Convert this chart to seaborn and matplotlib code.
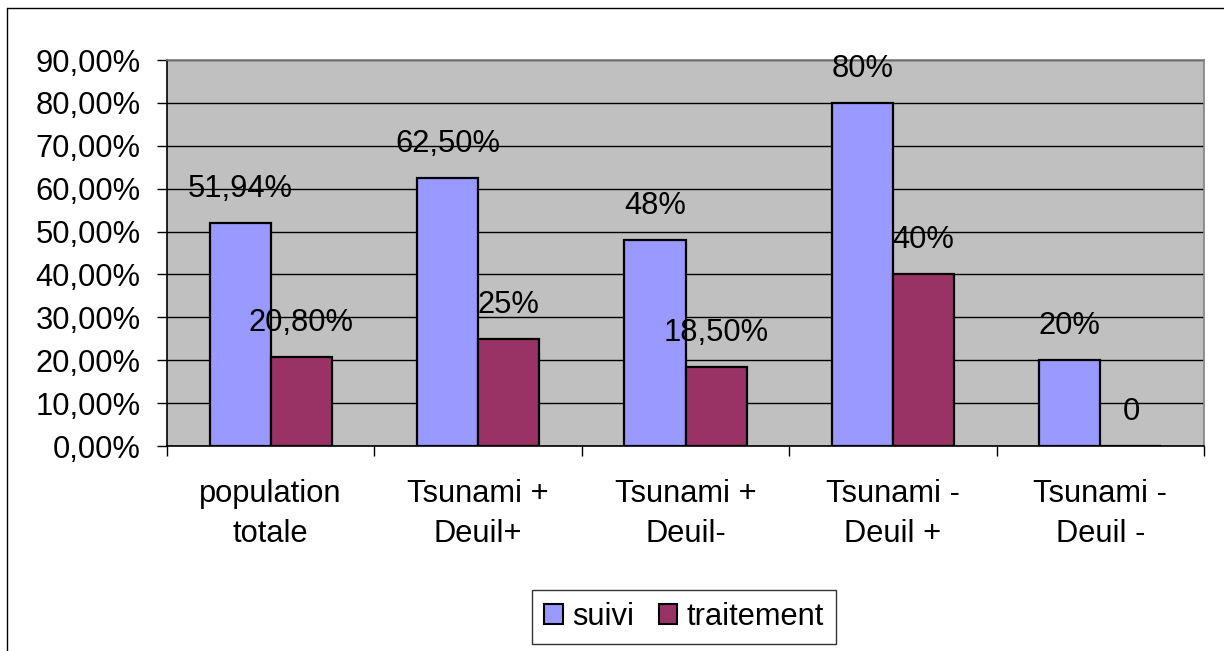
import matplotlib
matplotlib.use("Agg")
import matplotlib.pyplot as plt
import seaborn as sns
import pandas as pd
from matplotlib.ticker import FuncFormatter, FixedLocator
from matplotlib.lines import Line2D

categories = ["population\ntotale", "Tsunami +\nDeuil+", "Tsunami +\nDeuil-", "Tsunami -\nDeuil +", "Tsunami -\nDeuil -"]
suivi = [51.94, 62.5, 48.0, 80.0, 20.0]
traitement = [20.8, 25.0, 18.5, 40.0, 0.0]
suivi_labels = ["51,94%", "62,50%", "48%", "80%", "20%"]
traitement_labels = ["20,80%", "25%", "18,50%", "40%", "0"]
series = ["suivi", "traitement"]
colors = ["#9999FF", "#993366"]

df = pd.DataFrame({
    "cat": categories * 2,
    "val": suivi + traitement,
    "serie": [series[0]] * 5 + [series[1]] * 5,
})

sns.set_style("white")
plt.rcParams["font.family"] = ["Liberation Sans", "DejaVu Sans"]
plt.rcParams["text.color"] = "black"
plt.rcParams["xtick.color"] = "black"
plt.rcParams["ytick.color"] = "black"
plt.rcParams["xtick.labelcolor"] = "black"
plt.rcParams["ytick.labelcolor"] = "black"
FS = 22.2

fig = plt.figure(figsize=(12.24, 6.51), dpi=100)
ax = fig.add_axes([167 / 1224, 1 - 446 / 651, (1204 - 167) / 1224, (446 - 60) / 651])
ax.set_facecolor("#C0C0C0")

sns.barplot(data=df, x="cat", y="val", hue="serie", palette=colors, width=0.59,
            edgecolor="black", linewidth=1.6, ax=ax, saturation=1, gap=0, legend=True)

ax.set_ylim(0, 90)
ax.set_xlim(-0.5, len(categories) - 0.5)
ax.set_yticks(range(0, 91, 10))
ax.yaxis.set_major_formatter(FuncFormatter(lambda v, p: f"{v:.2f}%".replace(".", ",")))
ax.grid(axis="y", color="black", linewidth=1.0)
ax.grid(axis="x", visible=False)
ax.set_axisbelow(True)

ax.xaxis.set_major_locator(FixedLocator([i - 0.5 for i in range(len(categories) + 1)]))
ax.xaxis.set_major_formatter(FuncFormatter(lambda v, p: ""))
ax.xaxis.set_minor_locator(FixedLocator(list(range(len(categories)))))
ax.set_xticklabels(categories, minor=True, linespacing=1.4)
ax.tick_params(axis="x", which="major", direction="out", length=7, width=1, color="black", bottom=True)
ax.tick_params(axis="x", which="minor", length=0, pad=24, labelsize=FS, bottom=True)
ax.tick_params(axis="y", direction="out", length=7, width=1, color="black", labelsize=FS, pad=12, left=True)
ax.set_xlabel("")
ax.set_ylabel("")

for side in ["left", "bottom"]:
    ax.spines[side].set_color("black")
    ax.spines[side].set_linewidth(1.2)
for side in ["top", "right"]:
    ax.spines[side].set_color("#808080")
    ax.spines[side].set_linewidth(1.2)

# data labels
for cont, labs in zip(ax.containers, [suivi_labels, traitement_labels]):
    for bar, lab in zip(cont, labs):
        x = bar.get_x() + bar.get_width() / 2
        y = bar.get_height()
        ax.annotate(lab, (x, y), xytext=(0, 34), textcoords="offset pixels",
                    ha="center", va="center", fontsize=FS, color="black", annotation_clip=False)

ax.get_legend().remove()
handles = [plt.Rectangle((0, 0), 1, 1, facecolor=c, edgecolor="black", linewidth=1.5) for c in colors]
leg = fig.legend(handles, series, loc="center", bbox_to_anchor=(684 / 1224, 1 - 617 / 651),
                 ncol=2, fontsize=FS, frameon=True, fancybox=False, edgecolor="black",
                 handlelength=0.6, handleheight=0.6, handletextpad=0.3, columnspacing=0.8,
                 borderpad=0.4, borderaxespad=0)
leg.get_frame().set_linewidth(1.0)

# outer chart border
fig.add_artist(Line2D([7 / 1224, 7 / 1224], [0, 1 - 8 / 651], transform=fig.transFigure, color="black", linewidth=1))
fig.add_artist(Line2D([7 / 1224, 1], [1 - 8 / 651, 1 - 8 / 651], transform=fig.transFigure, color="black", linewidth=1))

fig.savefig("out.png", dpi=100, facecolor="white")
